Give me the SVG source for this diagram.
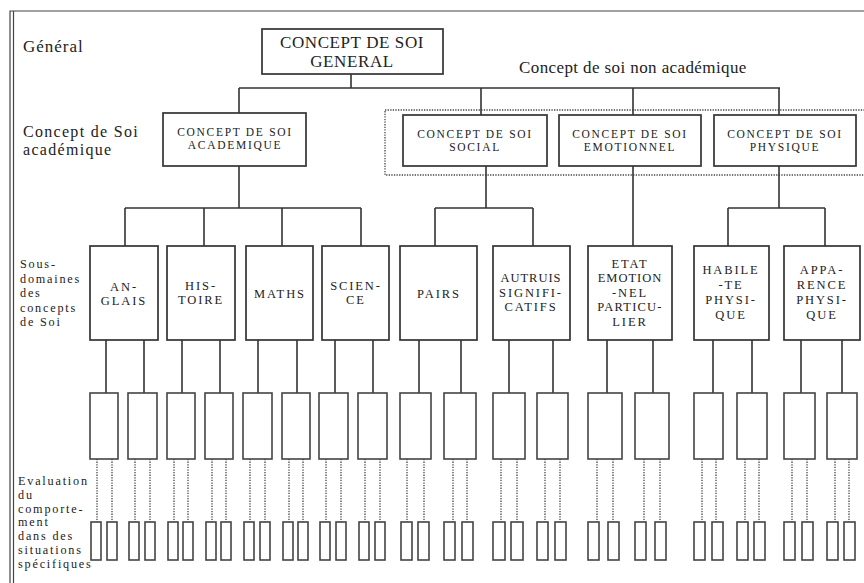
<svg xmlns="http://www.w3.org/2000/svg" width="864" height="583" viewBox="0 0 864 583">
<style>
.bg{fill:#fff}
.box{fill:#fff;stroke:#333;stroke-width:1.7}
.ebox{fill:#fff;stroke:#444;stroke-width:1.6}
.ln{fill:none;stroke:#333;stroke-width:1.6}
.dot{fill:none;stroke:#444;stroke-width:1.3;stroke-dasharray:1.3 1.3}
.frame{fill:none;stroke:#444;stroke-width:1.2}
text{font-family:"Liberation Serif","Times New Roman",serif;fill:#222}
.lbl{font-size:16px;letter-spacing:1.3px}
.side{font-size:12.2px;letter-spacing:1.8px}
.t1{font-size:17px;text-anchor:middle;letter-spacing:0.6px}
.t2{font-size:11.5px;text-anchor:middle;letter-spacing:1.7px}
.t3{font-size:12.5px;text-anchor:middle;letter-spacing:1.9px}
</style>
<rect class="bg" x="0" y="0" width="864" height="583"/>
<g id="frame">
<path class="frame" d="M10 583V11H864M13.5 583V11"/>
</g>
<g id="labels">
<text class="lbl" x="23" y="52" style="font-size:17px;letter-spacing:1px">Général</text>
<text class="lbl" x="23" y="137">Concept de Soi</text>
<text class="lbl" x="23" y="155">académique</text>
<text class="lbl" x="519" y="73" style="font-size:17px;letter-spacing:0.4px">Concept de soi non académique</text>
<text class="side" x="20" y="268">Sous-</text>
<text class="side" x="20" y="282.5">domaines</text>
<text class="side" x="20" y="297">des</text>
<text class="side" x="20" y="311.5">concepts</text>
<text class="side" x="20" y="326">de Soi</text>
<text class="side" x="18" y="485">Evaluation</text>
<text class="side" x="18" y="498.8">du</text>
<text class="side" x="18" y="512.6">comporte-</text>
<text class="side" x="18" y="526.4">ment</text>
<text class="side" x="18" y="540.2">dans des</text>
<text class="side" x="18" y="554">situations</text>
<text class="side" x="18" y="567.8">spécifiques</text>
</g>
<g id="nonacad-group">
<rect class="dot" x="385" y="110" width="490" height="65"/>
</g>
<g id="connectors">
<path class="ln" d="M351 74V88M239 88H780M239 88V113M481 88V115M633 88V115M779 88V115"/>
<path class="ln" d="M239 166V208M125 208H361M125 208V246M204 208V246M282 208V246M361 208V246"/>
<path class="ln" d="M486 166V208M435 208H533M435 208V246M533 208V246"/>
<path class="ln" d="M633 166V246"/>
<path class="ln" d="M779 166V208M728 208H825M728 208V246M825 208V246"/>
<path class="ln" d="M106 340V393M144 340V393M182 340V393M220 340V393M258 340V393M297 340V393M335 340V393M373 340V393M419 340V393M461 340V393M509 340V393M553 340V393M607 340V393M653 340V393M713 340V393M752 340V393M801 340V393M842 340V393"/>
<path class="dot" d="M97 459V522M112 459V522M135 459V522M150 459V522M174 459V522M188 459V522M212 459V522M226 459V522M250 459V522M265 459V522M289 459V522M303 459V522M326 459V522M341 459V522M365 459V522M380 459V522M407 459V522M424 459V522M453 459V522M467 459V522M501 459V522M517 459V522M545 459V522M560 459V522M597 459V522M613 459V522M644 459V522M660 459V522M702 459V522M716 459V522M745 459V522M759 459V522M792 459V522M807 459V522M835 459V522M849 459V522"/>
</g>
<g id="general">
<rect class="box" x="262" y="29" width="181" height="45"/>
<text class="t1" x="352" y="48">CONCEPT DE SOI</text>
<text class="t1" x="352" y="67">GENERAL</text>
</g>
<g id="academique">
<rect class="box" x="163" y="113" width="143" height="53"/>
<text class="t2" x="235" y="136">CONCEPT DE SOI</text>
<text class="t2" x="235" y="149">ACADEMIQUE</text>
</g>
<g id="social">
<rect class="box" x="403" y="115" width="144" height="51"/>
<text class="t2" x="475" y="138">CONCEPT DE SOI</text>
<text class="t2" x="475" y="151">SOCIAL</text>
</g>
<g id="emotionnel">
<rect class="box" x="559" y="115" width="142" height="51"/>
<text class="t2" x="630" y="138">CONCEPT DE SOI</text>
<text class="t2" x="630" y="151">EMOTIONNEL</text>
</g>
<g id="physique">
<rect class="box" x="714" y="115" width="142" height="51"/>
<text class="t2" x="785" y="138">CONCEPT DE SOI</text>
<text class="t2" x="785" y="151">PHYSIQUE</text>
</g>
<g id="anglais">
<rect class="box" x="90" y="246" width="68" height="94"/>
<text class="t3" x="124" y="291">AN-</text>
<text class="t3" x="124" y="305">GLAIS</text>
</g>
<g id="histoire">
<rect class="box" x="167" y="246" width="68" height="94"/>
<text class="t3" x="201" y="290">HIS-</text>
<text class="t3" x="201" y="304">TOIRE</text>
</g>
<g id="maths">
<rect class="box" x="246" y="246" width="67" height="94"/>
<text class="t3" x="280" y="298">MATHS</text>
</g>
<g id="science">
<rect class="box" x="322" y="246" width="67" height="94"/>
<text class="t3" x="356" y="290">SCIEN-</text>
<text class="t3" x="356" y="304">CE</text>
</g>
<g id="pairs">
<rect class="box" x="400" y="246" width="77" height="94"/>
<text class="t3" x="439" y="298">PAIRS</text>
</g>
<g id="autruis">
<rect class="box" x="493" y="246" width="77" height="94"/>
<text class="t3" x="531" y="282" style="letter-spacing:1px">AUTRUIS</text>
<text class="t3" x="531" y="296.5">SIGNIFI-</text>
<text class="t3" x="531" y="311">CATIFS</text>
</g>
<g id="etat">
<rect class="box" x="588" y="246" width="84" height="94"/>
<text class="t3" x="630" y="267.5">ETAT</text>
<text class="t3" x="630" y="282" style="letter-spacing:1px">EMOTION</text>
<text class="t3" x="630" y="296.5">-NEL</text>
<text class="t3" x="630" y="311" style="letter-spacing:1.2px">PARTICU-</text>
<text class="t3" x="630" y="325.5">LIER</text>
</g>
<g id="habilete">
<rect class="box" x="694" y="246" width="75" height="94"/>
<text class="t3" x="731" y="274">HABILE</text>
<text class="t3" x="731" y="289">-TE</text>
<text class="t3" x="731" y="304">PHYSI-</text>
<text class="t3" x="731" y="319">QUE</text>
</g>
<g id="apparence">
<rect class="box" x="784" y="246" width="76" height="94"/>
<text class="t3" x="822" y="274">APPA-</text>
<text class="t3" x="822" y="289">RENCE</text>
<text class="t3" x="822" y="304">PHYSI-</text>
<text class="t3" x="822" y="319">QUE</text>
</g>
<g id="evaluations">
<rect class="ebox" x="90" y="393" width="28" height="66"/>
<rect class="ebox" x="128" y="393" width="29" height="66"/>
<rect class="ebox" x="167" y="393" width="28" height="66"/>
<rect class="ebox" x="205" y="393" width="28" height="66"/>
<rect class="ebox" x="243" y="393" width="29" height="66"/>
<rect class="ebox" x="282" y="393" width="28" height="66"/>
<rect class="ebox" x="319" y="393" width="29" height="66"/>
<rect class="ebox" x="358" y="393" width="29" height="66"/>
<rect class="ebox" x="400" y="393" width="31" height="66"/>
<rect class="ebox" x="444" y="393" width="32" height="66"/>
<rect class="ebox" x="493" y="393" width="32" height="66"/>
<rect class="ebox" x="537" y="393" width="31" height="66"/>
<rect class="ebox" x="588" y="393" width="34" height="66"/>
<rect class="ebox" x="635" y="393" width="34" height="66"/>
<rect class="ebox" x="694" y="393" width="29" height="66"/>
<rect class="ebox" x="737" y="393" width="30" height="66"/>
<rect class="ebox" x="784" y="393" width="31" height="66"/>
<rect class="ebox" x="827" y="393" width="30" height="66"/>
</g>
<g id="situations">
<rect class="ebox" x="91" y="522" width="10" height="38"/><rect class="ebox" x="107" y="522" width="10" height="38"/>
<rect class="ebox" x="129" y="522" width="10" height="38"/><rect class="ebox" x="145" y="522" width="10" height="38"/>
<rect class="ebox" x="168" y="522" width="10" height="38"/><rect class="ebox" x="183" y="522" width="10" height="38"/>
<rect class="ebox" x="206" y="522" width="10" height="38"/><rect class="ebox" x="221" y="522" width="10" height="38"/>
<rect class="ebox" x="244" y="522" width="10" height="38"/><rect class="ebox" x="260" y="522" width="10" height="38"/>
<rect class="ebox" x="283" y="522" width="10" height="38"/><rect class="ebox" x="298" y="522" width="10" height="38"/>
<rect class="ebox" x="320" y="522" width="10" height="38"/><rect class="ebox" x="336" y="522" width="10" height="38"/>
<rect class="ebox" x="359" y="522" width="10" height="38"/><rect class="ebox" x="375" y="522" width="10" height="38"/>
<rect class="ebox" x="401" y="522" width="11" height="38"/><rect class="ebox" x="418" y="522" width="11" height="38"/>
<rect class="ebox" x="444" y="522" width="11" height="38"/><rect class="ebox" x="462" y="522" width="11" height="38"/>
<rect class="ebox" x="493" y="522" width="12" height="38"/><rect class="ebox" x="511" y="522" width="12" height="38"/>
<rect class="ebox" x="537" y="522" width="11" height="38"/><rect class="ebox" x="555" y="522" width="11" height="38"/>
<rect class="ebox" x="588" y="522" width="11" height="38"/><rect class="ebox" x="608" y="522" width="11" height="38"/>
<rect class="ebox" x="635" y="522" width="11" height="38"/><rect class="ebox" x="655" y="522" width="11" height="38"/>
<rect class="ebox" x="694" y="522" width="11" height="38"/><rect class="ebox" x="712" y="522" width="11" height="38"/>
<rect class="ebox" x="737" y="522" width="11" height="38"/><rect class="ebox" x="754" y="522" width="11" height="38"/>
<rect class="ebox" x="784" y="522" width="11" height="38"/><rect class="ebox" x="802" y="522" width="11" height="38"/>
<rect class="ebox" x="827" y="522" width="11" height="38"/><rect class="ebox" x="844" y="522" width="11" height="38"/>
</g>
</svg>
